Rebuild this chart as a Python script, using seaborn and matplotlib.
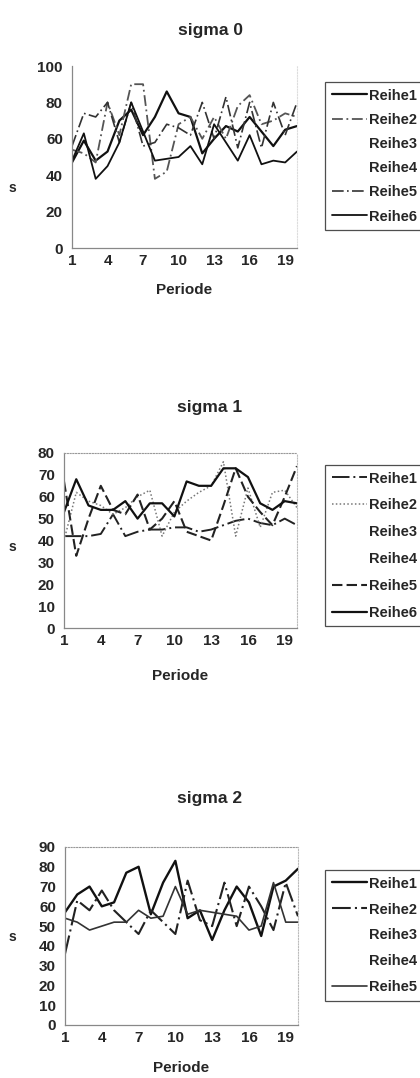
import numpy as np
import pandas as pd
import matplotlib
matplotlib.use("Agg")
import matplotlib.pyplot as plt
import seaborn as sns

sns.set_style("white")
plt.rcParams['font.family'] = ['Liberation Sans', 'DejaVu Sans']
plt.rcParams['font.weight'] = 'bold'

periods = list(range(1, 21))
xtick_labels = [1, 4, 7, 10, 13, 16, 19]

# sigma 0
s0_reihe1 = [47, 59, 48, 53, 70, 76, 62, 72, 86, 74, 72, 52, 60, 67, 64, 72, 64, 56, 65, 67]
s0_reihe2 = [54, 52, 47, 80, 62, 90, 90, 38, 42, 68, 72, 60, 72, 60, 78, 84, 68, 70, 74, 72]
s0_reihe3 = [0] * 20
s0_reihe4 = [0] * 20
s0_reihe5 = [56, 74, 72, 80, 58, 80, 56, 58, 68, 66, 62, 80, 60, 83, 55, 80, 55, 80, 62, 80]
s0_reihe6 = [48, 63, 38, 45, 58, 80, 64, 48, 49, 50, 56, 46, 68, 58, 48, 62, 46, 48, 47, 53]

# sigma 1
s1_reihe1 = [42, 42, 42, 43, 52, 42, 44, 45, 45, 46, 46, 44, 45, 47, 49, 50, 48, 47, 50, 47]
s1_reihe2 = [40, 62, 58, 56, 52, 55, 60, 63, 42, 53, 58, 62, 65, 76, 42, 64, 46, 62, 63, 55]
s1_reihe3 = [0] * 20
s1_reihe4 = [0] * 20
s1_reihe5 = [67, 33, 50, 65, 54, 52, 61, 45, 50, 58, 44, 42, 40, 56, 73, 60, 53, 47, 60, 74]
s1_reihe6 = [53, 68, 56, 54, 54, 58, 50, 57, 57, 51, 67, 65, 65, 73, 73, 69, 57, 54, 58, 57]

# sigma 2
s2_reihe1 = [57, 66, 70, 60, 62, 77, 80, 56, 72, 83, 54, 58, 43, 58, 70, 62, 45, 70, 73, 79]
s2_reihe2 = [36, 63, 58, 68, 58, 52, 46, 58, 52, 46, 73, 53, 50, 72, 50, 70, 60, 48, 72, 55]
s2_reihe3 = [0] * 20
s2_reihe4 = [0] * 20
s2_reihe5 = [54, 52, 48, 50, 52, 52, 58, 54, 55, 70, 56, 58, 57, 56, 55, 48, 50, 72, 52, 52]

W, H = 420, 1078
fig = plt.figure(figsize=(W / 100, H / 100), dpi=100)


def fx(px):
    return px / W


def fy(py):
    return 1 - py / H


charts = [
    dict(title="sigma 0", title_y=30, rect=(72, 66, 297, 248), ymax=100, ystep=20,
         series=[("Reihe1", s0_reihe1, dict(color="#111111", lw=1.6, ls="-")),
                 ("Reihe2", s0_reihe2, dict(color="#555555", lw=1.3, ls=(0, (6, 2, 1, 2)))),
                 ("Reihe3", s0_reihe3, dict(color="#ffffff", lw=0.5, ls="-")),
                 ("Reihe4", s0_reihe4, dict(color="#ffffff", lw=0.5, ls="-")),
                 ("Reihe5", s0_reihe5, dict(color="#333333", lw=1.2, ls=(0, (7, 2, 1, 2)))),
                 ("Reihe6", s0_reihe6, dict(color="#111111", lw=1.3, ls="-"))],
         s_y=188, per_y=290, leg=(325, 82), lsp=0.7, top_border=False),
    dict(title="sigma 1", title_y=408, rect=(64, 453, 297, 628), ymax=80, ystep=10,
         series=[("Reihe1", s1_reihe1, dict(color="#222222", lw=1.4, ls=(0, (9, 2, 1, 2)))),
                 ("Reihe2", s1_reihe2, dict(color="#777777", lw=1.1, ls=(0, (1, 1.5)))),
                 ("Reihe3", s1_reihe3, dict(color="#ffffff", lw=0.5, ls="-")),
                 ("Reihe4", s1_reihe4, dict(color="#ffffff", lw=0.5, ls="-")),
                 ("Reihe5", s1_reihe5, dict(color="#222222", lw=1.5, ls=(0, (5, 2)))),
                 ("Reihe6", s1_reihe6, dict(color="#111111", lw=1.6, ls="-"))],
         s_y=547, per_y=676, leg=(325, 465), lsp=0.88, top_border=True),
    dict(title="sigma 2", title_y=798, rect=(65, 847, 298, 1025), ymax=90, ystep=10,
         series=[("Reihe1", s2_reihe1, dict(color="#111111", lw=1.7, ls="-")),
                 ("Reihe2", s2_reihe2, dict(color="#222222", lw=1.5, ls=(0, (9, 2, 1, 2)))),
                 ("Reihe3", s2_reihe3, dict(color="#ffffff", lw=0.5, ls="-")),
                 ("Reihe4", s2_reihe4, dict(color="#ffffff", lw=0.5, ls="-")),
                 ("Reihe5", s2_reihe5, dict(color="#333333", lw=1.2, ls="-"))],
         s_y=937, per_y=1068, leg=(325, 870), lsp=0.82, top_border=True),
]

for ch in charts:
    l, t, r, b = ch["rect"]
    ax = fig.add_axes([fx(l), fy(b), (r - l) / W, (b - t) / H])
    for name, vals, st in ch["series"]:
        df = pd.DataFrame({"Periode": periods, "s": vals})
        sns.lineplot(data=df, x="Periode", y="s", ax=ax, label=name,
                     color=st["color"], linewidth=st["lw"], linestyle=st["ls"])
    ax.set_xlim(1, 20)
    ax.set_ylim(0, ch["ymax"])
    ax.set_xticks(xtick_labels)
    ax.set_xticks(periods, minor=True)
    ax.set_yticks(np.arange(0, ch["ymax"] + 1, ch["ystep"]))
    ax.tick_params(axis="both", which="major", labelsize=11, length=3, width=0.8,
                   color="#888888", direction="inout")
    ax.tick_params(axis="y", pad=5)
    ax.tick_params(axis="x", pad=3)
    ax.tick_params(axis="x", which="minor", length=3, width=0.6, color="#888888",
                   direction="inout")
    for lab in ax.get_xticklabels() + ax.get_yticklabels():
        lab.set_fontweight("bold")
    ax.set_xlabel("")
    ax.set_ylabel("")
    for side in ["left", "bottom"]:
        ax.spines[side].set_color("#888888")
        ax.spines[side].set_linewidth(0.9)
    for side in ["top", "right"]:
        ax.spines[side].set_color("#999999" if side == "top" else "#bbbbbb")
        ax.spines[side].set_linewidth(0.8)
        ax.spines[side].set_linestyle((0, (1, 1.5)))
    if not ch["top_border"]:
        ax.spines["top"].set_visible(False)
        ax.spines["right"].set_color("#dddddd")
    leg = ax.legend(loc="upper left", bbox_to_anchor=(fx(ch["leg"][0]), fy(ch["leg"][1])),
                    bbox_transform=fig.transFigure, borderaxespad=0, frameon=True,
                    fancybox=False, edgecolor="#222222", fontsize=10.5,
                    handlelength=2.4, handletextpad=0.2, labelspacing=ch["lsp"],
                    borderpad=0.45)
    leg.get_frame().set_linewidth(0.9)
    for txt in leg.get_texts():
        txt.set_fontweight("bold")
    fig.text(0.5, fy(ch["title_y"]), ch["title"], ha="center", va="center",
             fontsize=12.5, fontweight="bold")
    fig.text(fx(12), fy(ch["s_y"]), "s", ha="center", va="center",
             fontsize=10, fontweight="bold")
    fig.text(fx((l + r) / 2), fy(ch["per_y"]), "Periode", ha="center", va="center",
             fontsize=11, fontweight="bold")

fig.savefig("out.png", dpi=100)
